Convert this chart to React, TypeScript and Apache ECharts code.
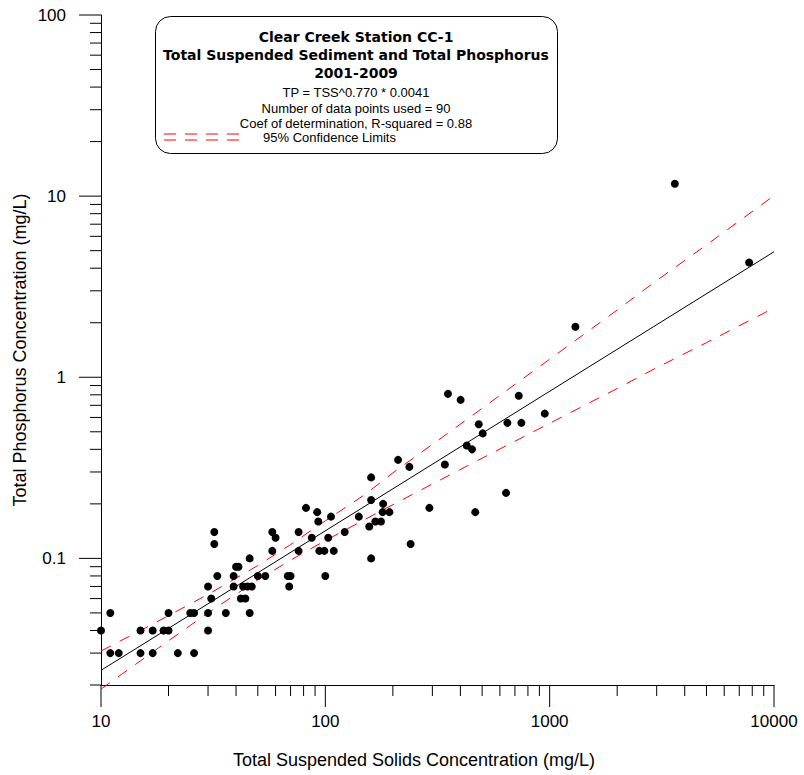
import React, { useEffect, useRef } from "react";
import * as echarts from "echarts";

// Observations: Total Suspended Solids (mg/L) and Total Phosphorus (mg/L)
const TSS = [
  10, 11, 11, 12, 15, 15, 17, 17, 19, 20, 20, 22, 25, 26, 26, 30, 31, 30, 30, 36,
  82, 92, 93, 32, 32, 58, 60, 58, 76, 76, 87, 94, 46, 40, 41, 33, 39, 50, 54, 68,
  70, 39, 43, 45, 47, 69, 42, 44, 46,
  211, 237, 160, 160, 106, 141, 181, 180, 193, 167, 177, 157, 103, 122, 99, 109, 100, 160, 240, 291,
  352, 401, 728, 951, 483, 648, 748, 503, 427, 451, 341, 639, 466,
  3614, 7745, 1302,
];
const TP = [
  0.04, 0.05, 0.03, 0.03, 0.04, 0.03, 0.04, 0.03, 0.04, 0.04, 0.05, 0.03, 0.05, 0.05, 0.03, 0.07, 0.06, 0.05, 0.04, 0.05,
  0.19, 0.18, 0.16, 0.14, 0.12, 0.14, 0.13, 0.11, 0.14, 0.11, 0.13, 0.11, 0.1, 0.09, 0.09, 0.08, 0.08, 0.08, 0.08, 0.08,
  0.08, 0.07, 0.07, 0.07, 0.07, 0.07, 0.06, 0.06, 0.05,
  0.35, 0.32, 0.28, 0.21, 0.17, 0.17, 0.2, 0.18, 0.18, 0.16, 0.16, 0.15, 0.13, 0.14, 0.11, 0.11, 0.08, 0.1, 0.12, 0.19,
  0.81, 0.75, 0.79, 0.63, 0.55, 0.56, 0.56, 0.49, 0.42, 0.4, 0.33, 0.23, 0.18,
  11.7, 4.3, 1.9,
];

// Regression line end points (TP = TSS^0.770 * 0.0041)
const fitX = [10, 10000];
const fitY = [0.0241, 4.93];

// 95% confidence limits
const ciX = [10, 15, 20, 30, 50, 70, 100, 150, 200, 300, 500, 1000, 2000, 3000, 5000, 10000];
const ciUpper = [0.0308, 0.04, 0.0483, 0.0633, 0.0913, 0.1192, 0.1612, 0.225, 0.2967, 0.426, 0.674, 1.258, 2.351, 3.42, 5.38, 10.06];
const ciLower = [0.019, 0.0272, 0.0351, 0.05, 0.0761, 0.0978, 0.1254, 0.164, 0.198, 0.2574, 0.3575, 0.557, 0.867, 1.13, 1.553, 2.415];

// Axis ticks
const xMajor = [10, 100, 1000, 10000];
const xMajorLabels = ["10", "100", "1000", "10000"];
const xMinor = [20, 30, 40, 50, 60, 70, 80, 90, 200, 300, 400, 500, 600, 700, 800, 900, 2000, 3000, 4000, 5000, 6000, 7000, 8000, 9000];
const yMajor = [0.1, 1, 10, 100];
const yMajorLabels = ["0.1", "1", "10", "100"];
const yMinor = [0.02, 0.03, 0.04, 0.05, 0.06, 0.07, 0.08, 0.09, 0.2, 0.3, 0.4, 0.5, 0.6, 0.7, 0.8, 0.9, 2, 3, 4, 5, 6, 7, 8, 9, 20, 30, 40, 50, 60, 70, 80, 90];

const titleLines = ["Clear Creek Station CC-1", "Total Suspended Sediment and Total Phosphorus", "2001-2009"];
const infoLines = ["TP = TSS^0.770 * 0.0041", "Number of data points used = 90", "Coef of determination, R-squared = 0.88"];
const legendText = "95% Confidence Limits";
const xName = "Total Suspended Solids Concentration (mg/L)";
const yName = "Total Phosphorus Concentration (mg/L)";

const X_MIN = 10, X_MAX = 10000, Y_MIN = 0.02, Y_MAX = 100;

function lookupLabel(v: number, vals: number[], labels: string[]) {
  for (let i = 0; i < vals.length; i++) {
    if (Math.abs(Math.log10(v) - Math.log10(vals[i])) < 1e-6) return labels[i];
  }
  return "";
}

export default function App() {
  const ref = useRef<HTMLDivElement>(null);
  useEffect(() => {
    document.body.style.margin = "0";
    const chart = echarts.init(ref.current!, undefined, { renderer: "svg" });
    const FONT = "'Liberation Sans', Arial, sans-serif";
    const BOLD = "'DejaVu Sans', Verdana, sans-serif";

    const xTickData = [
      ...xMajor.map((v) => [v, Y_MIN, 22]),
      ...xMinor.map((v) => [v, Y_MIN, 11]),
    ];
    const yTickData = [
      ...yMajor.map((v) => [X_MIN, v, 22]),
      ...yMinor.map((v) => [X_MIN, v, 11]),
    ];

    const graphic: any[] = [
      {
        type: "rect",
        z: 100,
        shape: { x: 155.5, y: 16.5, width: 402, height: 137, r: 15 },
        style: { fill: "#fff", stroke: "#000", lineWidth: 1 },
      },
    ];
    const titleY = [37, 55, 73];
    titleLines.forEach((t, i) => {
      graphic.push({
        type: "text", z: 101, x: 356, y: titleY[i],
        style: { text: t, font: `bold 14px ${BOLD}`, fill: "#000", textAlign: "center", textVerticalAlign: "middle" },
      });
    });
    const infoY = [92, 108, 123];
    infoLines.forEach((t, i) => {
      graphic.push({
        type: "text", z: 101, x: 356, y: infoY[i],
        style: { text: t, font: `13px ${FONT}`, fill: "#000", textAlign: "center", textVerticalAlign: "middle" },
      });
    });
    [134, 140].forEach((yy) => {
      graphic.push({
        type: "line", z: 101,
        shape: { x1: 164, y1: yy, x2: 245, y2: yy },
        style: { stroke: "#ff0000", lineWidth: 1, lineDash: [12, 9] },
      });
    });
    graphic.push({
      type: "text", z: 101, x: 263, y: 137,
      style: { text: legendText, font: `13px ${FONT}`, fill: "#000", textAlign: "left", textVerticalAlign: "middle" },
    });
    // axis titles
    graphic.push({
      type: "text", x: 414, y: 760,
      style: { text: xName, font: `18px ${FONT}`, fill: "#000", textAlign: "center", textVerticalAlign: "middle" },
    });
    graphic.push({
      type: "text", x: 20, y: 350, rotation: Math.PI / 2,
      style: { text: yName, font: `18px ${FONT}`, fill: "#000", textAlign: "center", textVerticalAlign: "middle" },
    });

    const tickRender = (vertical: boolean) => (params: any, api: any) => {
      const p = api.coord([api.value(0), api.value(1)]);
      const len = api.value(2);
      const shape = vertical
        ? { x1: p[0], y1: p[1], x2: p[0], y2: p[1] + len }
        : { x1: p[0] - len, y1: p[1], x2: p[0], y2: p[1] };
      return { type: "line", shape, style: { stroke: "#000", lineWidth: 1 } };
    };

    chart.setOption({
      animation: false,
      backgroundColor: "#fff",
      grid: { left: 101, right: 30, top: 15, bottom: 90, containLabel: false },
      xAxis: {
        type: "log",
        logBase: 10,
        min: X_MIN,
        max: X_MAX,
        axisLine: { show: true, lineStyle: { color: "#000", width: 1 } },
        axisTick: { show: false },
        splitLine: { show: false },
        axisLabel: {
          margin: 28,
          fontFamily: FONT,
          fontSize: 17,
          color: "#000",
          formatter: (v: number) => lookupLabel(v, xMajor, xMajorLabels),
        },
      },
      yAxis: {
        type: "log",
        logBase: 10,
        min: Y_MIN,
        max: Y_MAX,
        axisLine: { show: true, lineStyle: { color: "#000", width: 1 } },
        axisTick: { show: false },
        splitLine: { show: false },
        axisLabel: {
          margin: 35,
          fontFamily: FONT,
          fontSize: 17,
          color: "#000",
          showMinLabel: false,
          formatter: (v: number) => lookupLabel(v, yMajor, yMajorLabels),
        },
      },
      graphic,
      series: [
        {
          type: "custom",
          silent: true,
          clip: false,
          renderItem: tickRender(true),
          data: xTickData,
          encode: { x: 0, y: 1 },
        },
        {
          type: "custom",
          silent: true,
          clip: false,
          renderItem: tickRender(false),
          data: yTickData,
          encode: { x: 0, y: 1 },
        },
        {
          type: "line",
          data: ciX.map((x, i) => [x, ciUpper[i]]),
          showSymbol: false,
          clip: false,
          silent: true,
          lineStyle: { color: "#ff0000", width: 1, type: [11, 10] },
        },
        {
          type: "line",
          data: ciX.map((x, i) => [x, ciLower[i]]),
          showSymbol: false,
          clip: false,
          silent: true,
          lineStyle: { color: "#ff0000", width: 1, type: [11, 10] },
        },
        {
          type: "line",
          data: fitX.map((x, i) => [x, fitY[i]]),
          showSymbol: false,
          silent: true,
          lineStyle: { color: "#000", width: 1 },
        },
        {
          type: "scatter",
          data: TSS.map((x, i) => [x, TP[i]]),
          symbol: "circle",
          symbolSize: 8,
          itemStyle: { color: "#000", opacity: 1 },
          z: 5,
        },
      ],
    });
    return () => chart.dispose();
  }, []);
  return <div ref={ref} style={{ position: "absolute", left: 0, top: 0, width: 804, height: 775 }} />;
}
